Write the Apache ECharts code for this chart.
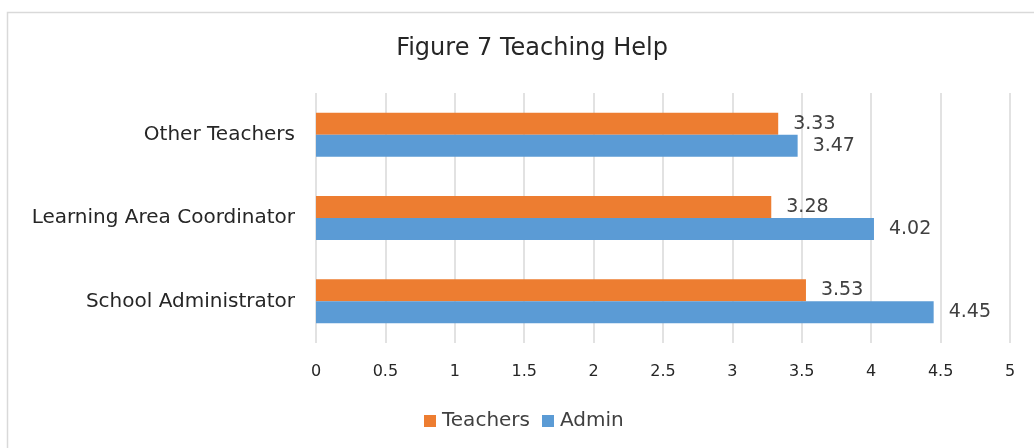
<!DOCTYPE html>
<html lang="en">
<head>
    <meta charset="UTF-8">
    <title>Figure 7 Teaching Help</title>
    <script src="https://cdn.jsdelivr.net/npm/echarts@6/dist/echarts.min.js"></script>
    <style>
        html, body { margin: 0; padding: 0; background: #fff; }
    </style>
</head>
<body>
<div id="main" style="width: 1034px;height:448px;"></div>

<script type="text/javascript">
    // data, bottom to top like the picture
    const categories = ['School Administrator', 'Learning Area Coordinator', 'Other Teachers']
    const teachers = [3.53, 3.28, 3.33]
    const admin = [4.45, 4.02, 3.47]
    const xTicks = [0, 0.5, 1, 1.5, 2, 2.5, 3, 3.5, 4, 4.5, 5]

    const font = '"DejaVu Sans", sans-serif'
    const txt = '#404040'

    const myChart = echarts.init(document.getElementById('main'))

    const option = {
        animation: false,
        textStyle: { fontFamily: font },
        graphic: [{
            type: 'rect',
            shape: { x: 7.5, y: 12.5, width: 1040, height: 450 },
            style: { fill: 'none', stroke: '#d9d9d9', lineWidth: 1.5 },
            silent: true
        }],
        title: {
            text: 'Figure 7 Teaching Help',
            left: 527,
            textAlign: 'center',
            top: 32,
            textStyle: { fontFamily: font, fontSize: 24, fontWeight: 'normal', color: '#262626' }
        },
        legend: {
            data: ['Teachers', 'Admin'],
            left: 419,
            top: 406,
            itemWidth: 12,
            itemHeight: 12,
            itemGap: 12,
            icon: 'rect',
            textStyle: { fontFamily: font, fontSize: 20, color: txt, padding: [0, 0, 0, 1] }
        },
        grid: { left: 316, right: 24, top: 93, bottom: 105 },
        xAxis: {
            type: 'value',
            min: xTicks[0],
            max: xTicks[xTicks.length - 1],
            interval: 0.5,
            axisLine: { show: false },
            axisTick: { show: false },
            axisLabel: { color: '#262626', fontSize: 16, margin: 21, fontFamily: font },
            splitLine: { show: true, lineStyle: { color: '#d9d9d9', width: 1.5 } }
        },
        yAxis: {
            type: 'category',
            data: categories,
            axisLine: { show: false },
            axisTick: { show: false },
            axisLabel: { color: '#262626', fontSize: 20, margin: 21, fontFamily: font }
        },
        series: [{
            name: 'Teachers',
            type: 'bar',
            data: teachers,
            barWidth: 22,
            barGap: '0%',
            itemStyle: { color: '#ED7D31' },
            label: { show: true, position: 'right', distance: 15, color: txt, fontSize: 19, fontFamily: font }
        }, {
            name: 'Admin',
            type: 'bar',
            data: admin,
            barWidth: 22,
            barGap: '0%',
            itemStyle: { color: '#5B9BD5' },
            label: { show: true, position: 'right', distance: 15, color: txt, fontSize: 19, fontFamily: font }
        }]
    }

    myChart.setOption(option)
</script>
</body>
</html>
